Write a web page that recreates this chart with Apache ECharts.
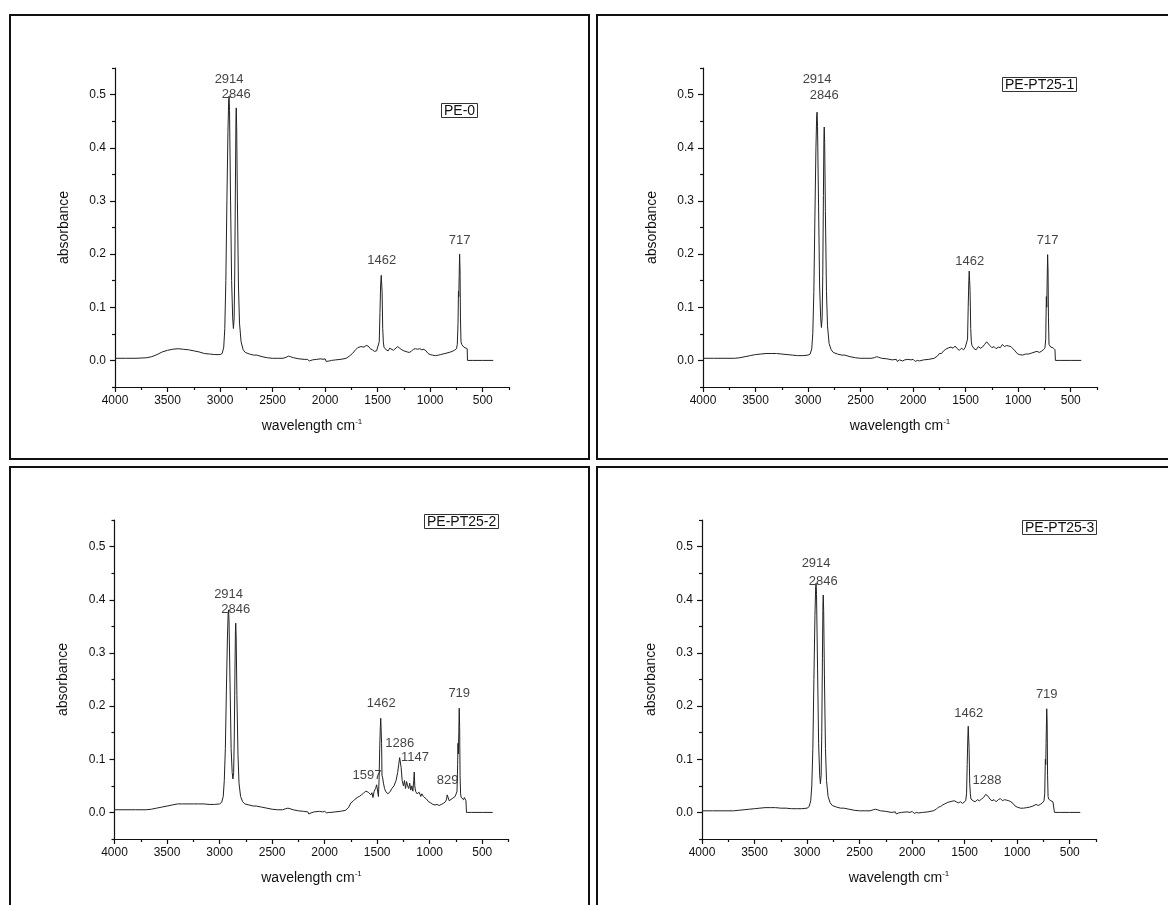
<!DOCTYPE html>
<html>
<head>
<meta charset="utf-8">
<script src="https://cdn.jsdelivr.net/npm/echarts@6/dist/echarts.min.js"></script>
<style>
html,body{margin:0;padding:0;background:#fff;}
#c{width:1168px;height:905px;}
</style>
</head>
<body>
<div id="c"></div>
<script>
// ---------- DATA ----------
const panelNames = ['PE-0', 'PE-PT25-1', 'PE-PT25-2', 'PE-PT25-3'];

const xTickLabels = [500, 1000, 1500, 2000, 2500, 3000, 3500, 4000];
const xMinorTicks = [250, 750, 1250, 1750, 2250, 2750, 3250, 3750];
const yTickLabels = [0, 0.1, 0.2, 0.3, 0.4, 0.5];
const yMinorTicks = [-0.05, 0.05, 0.15, 0.25, 0.35, 0.45, 0.55];

// PE-0
const wn0 = [4000,3900,3800,3700,3650,3600,3550,3500,3450,3400,3350,3300,3250,3200,3150,3100,3050,3000,2980,2965,2955,2945,2935,2925,2918,2914,2910,2900,2890,2880,2873,2866,2860,2854,2849,2846,2842,2835,2825,2815,2800,2780,2760,2720,2680,2650,2600,2550,2500,2450,2400,2370,2350,2330,2300,2250,2200,2170,2160,2150,2120,2080,2040,2020,2000,1990,1975,1960,1940,1900,1850,1800,1770,1740,1710,1690,1660,1630,1610,1590,1570,1550,1530,1510,1495,1485,1478,1472,1466,1462,1458,1452,1446,1440,1420,1400,1385,1370,1350,1335,1310,1290,1270,1250,1220,1200,1180,1160,1140,1120,1100,1080,1060,1040,1020,1000,980,950,920,900,860,820,790,770,750,742,735,731,728,724,720,716,712,707,700,690,680,670,662,648,645,600,500,400];
const ab0 = [.004,.004,.004,.005,.007,.011,.016,.019,.021,.022,.021,.020,.018,.016,.013,.012,.011,.011,.013,.025,.06,.15,.30,.43,.49,.497,.47,.30,.15,.08,.06,.08,.17,.33,.45,.475,.44,.30,.14,.07,.035,.02,.015,.012,.010,.010,.007,.005,.004,.004,.004,.006,.008,.007,.005,.003,.002,.002,.004,-.001,.001,.002,.003,.002,.003,-.002,.001,-.001,0,.001,.002,.004,.008,.013,.020,.024,.026,.025,.028,.027,.022,.020,.017,.018,.020,.035,.09,.14,.16,.162,.13,.06,.035,.025,.020,.018,.023,.021,.019,.022,.026,.023,.020,.018,.016,.015,.017,.021,.022,.021,.022,.020,.021,.018,.013,.011,.010,.009,.010,.011,.013,.015,.017,.019,.022,.030,.07,.13,.12,.16,.20,.17,.08,.035,.030,.028,.025,.026,.024,.022,0,0,0,0];
const peakText0 = ['2914','2846','1462','717'];
const peakX0 = [2914, 2846, 1462, 720];
const peakY0 = [0.528, 0.500, 0.189, 0.226];

// PE-PT25-1
const wn1 = [4000,3900,3800,3700,3650,3600,3550,3500,3450,3400,3350,3300,3250,3200,3150,3100,3050,3000,2980,2965,2955,2945,2935,2925,2918,2914,2910,2900,2890,2880,2873,2866,2860,2854,2849,2846,2842,2835,2825,2815,2800,2780,2760,2720,2680,2650,2600,2550,2500,2450,2400,2370,2350,2330,2300,2250,2200,2160,2150,2130,2100,2080,2050,2020,2000,1980,1960,1940,1900,1850,1800,1770,1750,1730,1710,1690,1660,1640,1620,1600,1580,1560,1540,1520,1505,1490,1482,1476,1470,1466,1462,1458,1452,1446,1440,1420,1400,1380,1360,1340,1320,1300,1285,1270,1250,1230,1210,1190,1170,1150,1130,1110,1090,1070,1050,1030,1010,990,960,930,900,870,840,820,800,780,760,745,738,732,728,725,720,716,712,707,700,690,680,670,660,650,646,600,500,400];
const ab1 = [.004,.004,.004,.004,.005,.007,.009,.011,.012,.013,.013,.013,.012,.011,.010,.009,.009,.010,.012,.022,.05,.13,.27,.40,.46,.467,.44,.29,.14,.08,.062,.08,.16,.31,.42,.439,.41,.28,.13,.065,.032,.020,.015,.012,.010,.010,.007,.005,.004,.004,.004,.005,.007,.006,.004,.003,.001,.002,-.002,.001,-.001,.001,.002,.001,.002,-.002,0,-.001,.001,.002,.004,.008,.013,.013,.018,.021,.024,.025,.023,.027,.022,.019,.023,.020,.024,.024,.04,.10,.15,.168,.169,.13,.06,.035,.028,.022,.020,.026,.023,.025,.030,.035,.034,.028,.024,.026,.022,.025,.024,.030,.026,.028,.027,.026,.022,.018,.013,.011,.010,.012,.012,.014,.016,.017,.015,.017,.020,.024,.04,.12,.10,.14,.199,.17,.08,.03,.027,.025,.025,.024,.022,.020,0,0,0,0];
const peakText1 = ['2914','2846','1462','717'];
const peakX1 = [2914, 2846, 1462, 720];
const peakY1 = [0.528, 0.499, 0.187, 0.226];

// PE-PT25-2
const wn2 = [4000,3900,3800,3700,3650,3600,3550,3500,3450,3400,3350,3300,3250,3200,3150,3100,3050,3000,2980,2965,2955,2945,2935,2925,2918,2914,2910,2900,2890,2880,2873,2866,2860,2854,2849,2846,2842,2835,2825,2815,2800,2780,2760,2720,2680,2650,2600,2550,2500,2450,2400,2370,2350,2330,2300,2250,2200,2160,2150,2130,2100,2050,2020,2000,1980,1960,1940,1900,1850,1800,1770,1750,1730,1710,1690,1670,1650,1630,1610,1597,1585,1570,1560,1550,1540,1528,1515,1505,1495,1488,1482,1476,1470,1466,1462,1458,1454,1448,1440,1430,1420,1400,1380,1360,1340,1320,1305,1295,1286,1280,1272,1262,1250,1240,1230,1220,1210,1200,1190,1180,1170,1160,1152,1147,1142,1135,1120,1100,1085,1075,1060,1045,1030,1010,990,970,950,930,910,890,870,850,840,833,829,824,815,800,785,770,758,748,740,734,731,727,723,719,715,711,706,700,692,685,678,670,662,655,650,600,500,400];
const ab2 = [.005,.005,.005,.005,.006,.008,.010,.012,.014,.016,.016,.016,.016,.016,.016,.015,.015,.016,.019,.03,.06,.12,.23,.33,.375,.381,.36,.24,.12,.075,.063,.075,.14,.26,.34,.356,.33,.22,.11,.055,.030,.020,.016,.014,.012,.012,.010,.008,.006,.005,.005,.007,.008,.007,.005,.003,.002,.001,-.003,-.001,.001,.002,.001,.002,-.001,0,0,.001,.002,.004,.010,.018,.021,.025,.028,.030,.033,.036,.040,.042,.038,.040,.033,.037,.028,.040,.045,.052,.050,.030,.06,.12,.16,.177,.178,.13,.07,.065,.055,.045,.040,.035,.038,.045,.050,.060,.075,.090,.103,.100,.085,.060,.050,.060,.045,.058,.050,.045,.055,.042,.050,.040,.060,.076,.050,.040,.035,.038,.030,.035,.030,.027,.025,.020,.018,.015,.014,.015,.013,.015,.017,.020,.025,.033,.036,.030,.022,.022,.026,.024,.030,.035,.040,.09,.13,.11,.15,.196,.16,.07,.035,.028,.025,.030,.024,.028,.025,.022,0,0,0,0];
const peakText2 = ['2914','2846','1462','1286','1147','1597','829','719'];
const peakX2 = [2914, 2846, 1462, 1286, 1140, 1597, 829, 719];
const peakY2 = [0.410, 0.381, 0.205, 0.130, 0.103, 0.070, 0.061, 0.224];

// PE-PT25-3
const wn3 = [4000,3900,3800,3700,3650,3600,3550,3500,3450,3400,3350,3300,3250,3200,3150,3100,3050,3000,2980,2965,2955,2945,2935,2925,2918,2914,2910,2900,2890,2880,2873,2866,2860,2854,2849,2846,2842,2835,2825,2815,2800,2780,2760,2720,2680,2650,2600,2550,2500,2450,2400,2370,2350,2330,2300,2250,2200,2160,2150,2130,2100,2050,2020,2000,1980,1960,1940,1900,1850,1800,1770,1750,1730,1710,1690,1660,1640,1620,1600,1580,1560,1540,1520,1505,1490,1482,1476,1470,1466,1462,1458,1452,1446,1440,1420,1400,1380,1360,1340,1320,1300,1288,1275,1260,1240,1220,1200,1180,1160,1140,1120,1100,1080,1060,1040,1020,1000,970,940,910,880,850,820,800,780,760,745,738,732,728,725,719,715,711,706,700,690,680,670,660,650,645,600,500,400];
const ab3 = [.003,.003,.003,.003,.004,.005,.006,.007,.008,.009,.009,.009,.008,.008,.007,.007,.007,.008,.011,.022,.05,.12,.25,.37,.425,.431,.41,.27,.13,.07,.054,.07,.15,.29,.39,.409,.38,.26,.12,.06,.030,.018,.013,.010,.008,.008,.006,.004,.003,.003,.003,.005,.006,.005,.003,.002,0,.001,-.003,-.001,0,.001,0,.002,-.002,0,-.001,0,.001,.003,.006,.010,.011,.014,.016,.019,.020,.021,.022,.020,.018,.020,.017,.020,.022,.035,.09,.14,.162,.163,.12,.055,.035,.025,.022,.020,.024,.022,.025,.028,.034,.036,.030,.025,.022,.024,.020,.024,.026,.022,.024,.023,.022,.020,.017,.012,.010,.008,.008,.009,.010,.012,.015,.013,.015,.018,.022,.035,.10,.09,.13,.195,.17,.07,.03,.025,.024,.022,.023,.020,.018,0,0,0,0];
const peakText3 = ['2914','2846','1462','1288','719'];
const peakX3 = [2914, 2846, 1462, 1288, 719];
const peakY3 = [0.468, 0.435, 0.187, 0.060, 0.222];

// ---------- BUILD ----------
const spectraX = [wn0, wn1, wn2, wn3];
const spectraY = [ab0, ab1, ab2, ab3];
const annText = [peakText0, peakText1, peakText2, peakText3];
const annX = [peakX0, peakX1, peakX2, peakX3];
const annY = [peakY0, peakY1, peakY2, peakY3];

const FONT = '"Liberation Sans", Arial, sans-serif';
const TXT = '#111';
const AX = '#111';

const grids = [
  {left: 115, top: 68, width: 394, height: 319},
  {left: 703, top: 68, width: 394, height: 319},
  {left: 114.5, top: 520, width: 394, height: 319},
  {left: 702, top: 520, width: 394, height: 319}
];
const boxPos = [
  {left: 441, top: 103},
  {left: 1002, top: 77},
  {left: 424, top: 514},
  {left: 1022, top: 520}
];

const xAxes = [], yAxes = [], series = [], titles = [];
for (let i = 0; i < 4; i++) {
  xAxes.push({
    type: 'value', gridIndex: i, min: 250, max: 4000, inverse: true, position: 'bottom',
    name: 'wavelength cm{sup|-1}', nameLocation: 'middle', nameGap: 31,
    nameTextStyle: {fontFamily: FONT, fontSize: 14, color: TXT,
      rich: {sup: {fontFamily: FONT, fontSize: 8, color: TXT, verticalAlign: 'top', padding: [0, 0, 8, 0]}}},
    axisLine: {onZero: false, lineStyle: {color: AX, width: 1.2}},
    axisTick: {length: 5, customValues: xTickLabels, lineStyle: {color: AX, width: 1.2}},
    axisLabel: {customValues: xTickLabels, margin: 8, fontFamily: FONT, fontSize: 12, color: TXT,
      formatter: v => String(Math.round(v))},
    splitLine: {show: false}
  });
  yAxes.push({
    type: 'value', gridIndex: i, min: -0.05, max: 0.55, position: 'left',
    name: 'absorbance', nameLocation: 'middle', nameGap: 44, nameRotate: 90,
    nameTextStyle: {fontFamily: FONT, fontSize: 14, color: TXT},
    axisLine: {show: true, onZero: false, lineStyle: {color: AX, width: 1.2}},
    axisTick: {show: true, length: 5, customValues: yTickLabels, lineStyle: {color: AX, width: 1.2}},
    axisLabel: {customValues: yTickLabels, margin: 9, fontFamily: FONT, fontSize: 12, color: TXT,
      formatter: v => Number(v).toFixed(1)},
    splitLine: {show: false}
  });
  titles.push({
    text: panelNames[i], left: boxPos[i].left, top: boxPos[i].top,
    padding: [1, 3, 0, 3], borderWidth: 1, borderColor: '#333',
    textStyle: {fontFamily: FONT, fontSize: 14, fontWeight: 'normal', color: TXT}
  });
}
for (let i = 0; i < 4; i++) {
  xAxes.push({
    type: 'value', gridIndex: i, min: 250, max: 4000, inverse: true, position: 'bottom', offset: 0,
    axisLine: {show: false, onZero: false},
    axisTick: {show: true, length: 3, customValues: xMinorTicks, lineStyle: {color: AX, width: 1.2}},
    axisLabel: {show: false}, splitLine: {show: false}
  });
  yAxes.push({
    type: 'value', gridIndex: i, min: -0.05, max: 0.55, position: 'left', offset: 0,
    axisLine: {show: false, onZero: false},
    axisTick: {show: true, length: 3, customValues: yMinorTicks, lineStyle: {color: AX, width: 1.2}},
    axisLabel: {show: false}, splitLine: {show: false}
  });
}
for (let i = 0; i < 4; i++) {
  series.push({
    type: 'line', xAxisIndex: i, yAxisIndex: i, showSymbol: false, symbol: 'none',
    animation: false, silent: true,
    lineStyle: {color: '#222', width: 1},
    data: spectraX[i].map((x, k) => [x, spectraY[i][k]])
  });
  series.push({
    type: 'scatter', xAxisIndex: i, yAxisIndex: i, symbolSize: 1, animation: false, silent: true,
    itemStyle: {color: 'rgba(0,0,0,0)'},
    label: {show: true, position: 'inside', formatter: p => p.name,
      fontFamily: FONT, fontSize: 13, color: TXT},
    data: annText[i].map((t, k) => ({name: t, value: [annX[i][k], annY[i][k]]}))
  });
}

const chart = echarts.init(document.getElementById('c'), null, {renderer: 'canvas'});
chart.setOption({
  backgroundColor: '#fff',
  animation: false,
  title: titles,
  grid: grids,
  xAxis: xAxes,
  yAxis: yAxes,
  series: series,
  graphic: [
    {type: 'rect', shape: {x: 10, y: 15, width: 579, height: 444}, style: {fill: null, stroke: '#111', lineWidth: 2}},
    {type: 'rect', shape: {x: 597, y: 15, width: 620, height: 444}, style: {fill: null, stroke: '#111', lineWidth: 2}},
    {type: 'rect', shape: {x: 10, y: 467, width: 579, height: 480}, style: {fill: null, stroke: '#111', lineWidth: 2}},
    {type: 'rect', shape: {x: 597, y: 467, width: 620, height: 480}, style: {fill: null, stroke: '#111', lineWidth: 2}}
  ]
});
</script>
</body>
</html>
